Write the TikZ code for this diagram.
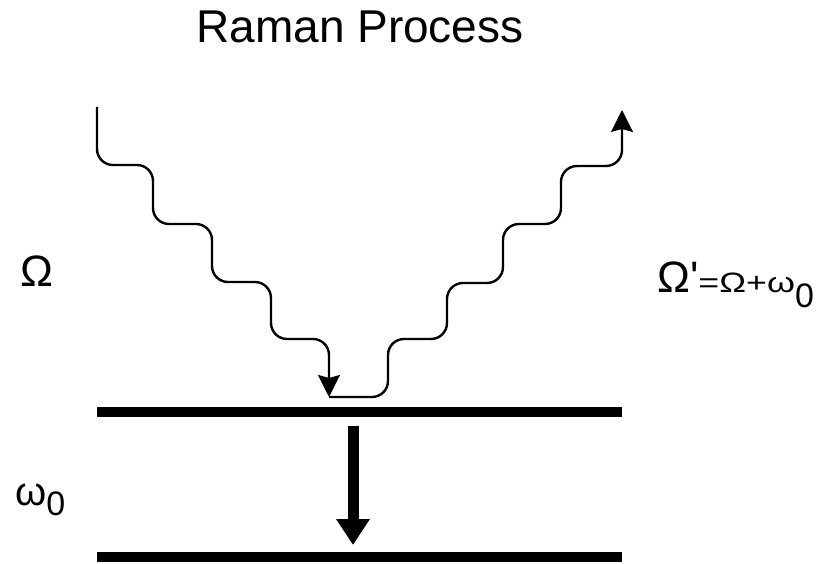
\documentclass[tikz,border=0pt]{standalone}
\usepackage{fontspec}
\setmainfont{Liberation Sans}
\usetikzlibrary{arrows.meta}

\tikzset{
  level/.style={line width=10pt},
  photon/.style={line width=2.4pt, rounded corners=16pt,
    -{Stealth[length=22pt,width=22pt,inset=3pt]}},
  txt/.style={inner sep=0pt, font=\fontsize{44}{50}\selectfont},
}

\begin{document}
\begin{tikzpicture}[x=1pt,y=-1pt]
   \useasboundingbox (0,0) rectangle (817,564);

   % energy levels
   \coordinate (upL) at (97,412);
   \coordinate (upR) at (622,412);
   \coordinate (loL) at (97,557);
   \coordinate (loR) at (622,557);
   \draw[level] (upL) -- (upR);
   \draw[level] (loL) -- (loR);

   % incoming and scattered photons
   \coordinate (in) at (97,107);
   \coordinate (hit) at (329,397);
   \coordinate (out) at (622,110);
   \draw[photon] (in) -- (97,165) -- (153,165) -- (153,224) -- (212,224)
      -- (212,282) -- (271,282) -- (271,339) -- (329,339) -- (hit);
   \draw[photon] (hit) -- (388,397) -- (388,339) -- (447,339) -- (447,283)
      -- (503,283) -- (503,224) -- (561,224) -- (561,166) -- (622,166) -- (out);

   % relaxation
   \coordinate (dnA) at (353,426);
   \coordinate (dnB) at (353,545);
   \draw[line width=11pt, -{Triangle[length=26pt,width=32pt]}] (dnA) -- (dnB);

   \node[txt, anchor=base, font=\fontsize{46}{50}\selectfont] (title) at (360,43) {Raman Process};
   \node[txt] (omega) at (37,271) {Ω};
   \node[txt, anchor=base west] (omegap) at (657,292)
      {Ω\textquotesingle\scalebox{1.28}[1]{\fontsize{28}{28}\selectfont =Ω+ω}\raisebox{-16pt}{\fontsize{34}{34}\selectfont 0}};
   \node[txt, anchor=base west] (omega0) at (15,505)
      {\fontsize{40}{40}\selectfont ω\raisebox{-10pt}{\fontsize{34}{34}\selectfont 0}};

\end{tikzpicture}
\end{document}
